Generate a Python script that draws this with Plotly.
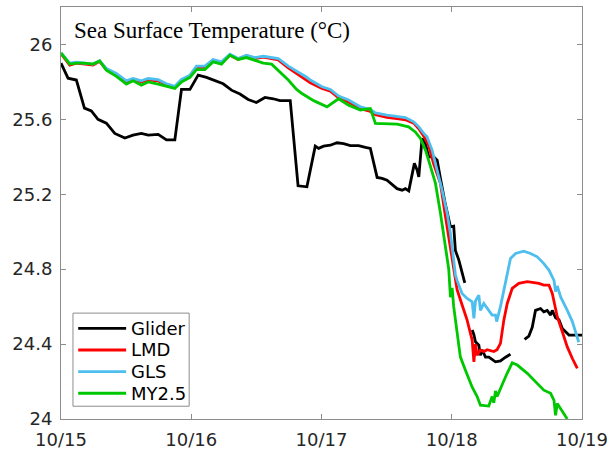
import plotly.graph_objects as go

# Time axis: days since 10/15 00:00
tick_days = [0, 1, 2, 3, 4]
tick_labels = ["10/15", "10/16", "10/17", "10/18", "10/19"]
y_ticks = [24, 24.4, 24.8, 25.2, 25.6, 26]
y_labels = ["24", "24.4", "24.8", "25.2", "25.6", "26"]

# Glider observations (None marks gaps in the record)
glider_t = [0, 0.054, 0.118, 0.18, 0.233, 0.284, 0.348, 0.413, 0.49, 0.553, 0.617, 0.669,
            0.746, 0.81, 0.874, 0.925, 0.99, 1.053, 1.117, 1.18, 1.245, 1.309, 1.374, 1.437,
            1.50, 1.566, 1.63, 1.681, 1.745, 1.76, 1.82, 1.888, 1.952, 1.978, 2.016, 2.068,
            2.119, 2.17, 2.221, 2.285, 2.337, 2.375, 2.427, 2.465, 2.503, 2.542, 2.58, 2.619,
            2.644, 2.67, 2.696, 2.713, 2.734, 2.747, 2.772, 2.798, 2.823, 2.862, 2.888, 2.90,
            2.913, 2.95, 2.99, 3.015, 3.028, 3.054, 3.079, 3.10, 3.13,
            3.157, 3.17, 3.182, 3.208, 3.22, 3.233, 3.259, 3.285, 3.336, 3.374, 3.413, 3.451, 3.50,
            3.559, 3.592, 3.618, 3.643, 3.682, 3.707, 3.733, 3.759, 3.772, 3.797, 3.823, 3.849,
            3.874, 3.90, 3.95, 4.0]
glider_v = [25.90, 25.82, 25.81, 25.66, 25.645, 25.60, 25.58, 25.525, 25.50, 25.516, 25.525, 25.516,
            25.52, 25.49, 25.49, 25.76, 25.76, 25.836, 25.824, 25.806, 25.79, 25.756, 25.735, 25.706,
            25.69, 25.717, 25.71, 25.70, 25.70, 25.70, 25.245, 25.24, 25.457, 25.445, 25.457, 25.462,
            25.475, 25.47, 25.46, 25.46, 25.45, 25.445, 25.29, 25.285, 25.275, 25.25, 25.23, 25.222,
            25.23, 25.218, 25.31, 25.365, 25.33, 25.293, 25.498, 25.47, 25.40, 25.40, 25.382, 25.33,
            25.285, 25.15, 25.026, 25.03, 24.90, 24.85, 24.786, 24.727, None,
            24.475, 24.45, 24.412, 24.394, 24.34, 24.37, 24.33, 24.33, 24.305, 24.31, 24.33, 24.346, None,
            24.425, 24.443, 24.49, 24.58, 24.59, 24.572, 24.58, 24.555, 24.58, 24.54, 24.53, 24.483,
            24.466, 24.448, 24.448, 24.448]

# LMD model
lmd_t = [0, 0.067, 0.118, 0.18, 0.246, 0.297, 0.348, 0.425, 0.502, 0.553, 0.617, 0.669, 0.746,
         0.81, 0.874, 0.925, 0.99, 1.04, 1.104, 1.168, 1.232, 1.297, 1.36, 1.424, 1.489, 1.553,
         1.617, 1.668, 1.745, 1.822, 1.886, 1.914, 2.004, 2.068, 2.131, 2.208, 2.298, 2.375,
         2.414, 2.503, 2.593, 2.644, 2.708, 2.747, 2.785, 2.823, 2.862, 2.913, 2.952, 2.99,
         3.003, 3.015, 3.041, 3.079, 3.118, 3.157, 3.17, 3.182, 3.195, 3.22, 3.246, 3.272,
         3.323, 3.348, 3.374, 3.40, 3.426, 3.464, 3.515, 3.58, 3.631, 3.669, 3.707, 3.746,
         3.772, 3.785, 3.81, 3.849, 3.887, 3.926, 3.964]
lmd_v = [25.95, 25.89, 25.90, 25.895, 25.89, 25.91, 25.865, 25.84, 25.80, 25.812, 25.80, 25.81, 25.805,
         25.785, 25.772, 25.806, 25.83, 25.878, 25.878, 25.915, 25.902, 25.942, 25.92, 25.94, 25.925, 25.932,
         25.925, 25.918, 25.875, 25.84, 25.81, 25.795, 25.765, 25.75, 25.715, 25.692, 25.657, 25.643,
         25.625, 25.61, 25.603, 25.598, 25.58, 25.55, 25.51, 25.46, 25.36, 25.258, 25.08, 24.92,
         24.87, 24.80, 24.69, 24.61, 24.528, 24.42, 24.305, 24.40, 24.34, 24.368, 24.36, 24.37,
         24.36, 24.37, 24.404, 24.528, 24.617, 24.697, 24.724, 24.733, 24.73, 24.724, 24.715, 24.715,
         24.67, 24.63, 24.546, 24.466, 24.385, 24.323, 24.27]

# GLS model
gls_t = [0, 0.067, 0.118, 0.18, 0.246, 0.297, 0.348, 0.425, 0.502, 0.553, 0.617, 0.669, 0.746,
         0.81, 0.874, 0.925, 0.99, 1.04, 1.104, 1.168, 1.232, 1.297, 1.36, 1.424, 1.489, 1.553,
         1.617, 1.668, 1.745, 1.822, 1.886, 1.914, 2.004, 2.068, 2.131, 2.208, 2.298, 2.375,
         2.414, 2.503, 2.593, 2.644, 2.708, 2.747, 2.785, 2.81, 2.849, 2.888, 2.926, 2.965,
         2.99, 3.015, 3.028, 3.041, 3.079, 3.118, 3.157, 3.17, 3.182, 3.208, 3.22, 3.246,
         3.284, 3.31, 3.336, 3.345, 3.374, 3.413, 3.426, 3.451, 3.49, 3.553, 3.605, 3.656,
         3.707, 3.746, 3.785, 3.797, 3.81, 3.836, 3.887, 3.926, 3.975]
gls_v = [25.955, 25.90, 25.905, 25.90, 25.895, 25.913, 25.872, 25.845, 25.806, 25.818, 25.806, 25.818, 25.812,
         25.79, 25.777, 25.813, 25.836, 25.884, 25.884, 25.92, 25.907, 25.948, 25.925, 25.943, 25.93, 25.937,
         25.93, 25.925, 25.884, 25.854, 25.825, 25.81, 25.774, 25.76, 25.724, 25.703, 25.667, 25.653,
         25.635, 25.622, 25.613, 25.61, 25.587, 25.56, 25.525, 25.507, 25.436, 25.33, 25.222, 25.098,
         24.99, 24.848, 24.77, 24.74, 24.67, 24.644, 24.626, 24.537, 24.63, 24.661, 24.58, 24.617,
         24.58, 24.555, 24.555, 24.52, 24.60, 24.724, 24.777, 24.857, 24.884, 24.896, 24.884, 24.866,
         24.83, 24.795, 24.74, 24.68, 24.71, 24.652, 24.58, 24.52, 24.41]

# MY2.5 model
my25_t = [0, 0.067, 0.118, 0.18, 0.246, 0.297, 0.348, 0.425, 0.502, 0.553, 0.617, 0.669, 0.746,
          0.81, 0.874, 0.925, 0.99, 1.04, 1.104, 1.168, 1.232, 1.297, 1.36, 1.424, 1.489, 1.553,
          1.617, 1.681, 1.745, 1.809, 1.85, 1.94, 2.042, 2.131, 2.208, 2.298, 2.375, 2.414,
          2.503, 2.58, 2.669, 2.72, 2.76, 2.798, 2.836, 2.875, 2.913, 2.952, 2.977, 2.99,
          3.003, 3.015, 3.041, 3.066, 3.105, 3.157, 3.195, 3.22, 3.284, 3.31, 3.323, 3.336,
          3.348, 3.40, 3.425, 3.464, 3.503, 3.58, 3.656, 3.707, 3.759, 3.785, 3.797, 3.81, 3.887]
my25_v = [25.955, 25.895, 25.90, 25.90, 25.895, 25.912, 25.863, 25.83, 25.788, 25.806, 25.783, 25.80, 25.788,
          25.777, 25.765, 25.80, 25.824, 25.866, 25.866, 25.907, 25.895, 25.943, 25.92, 25.93, 25.916, 25.90,
          25.895, 25.854, 25.81, 25.76, 25.738, 25.70, 25.667, 25.71, 25.676, 25.65, 25.658, 25.578,
          25.575, 25.575, 25.56, 25.533, 25.498, 25.436, 25.35, 25.258, 25.10, 24.92, 24.80, 24.65,
          24.70, 24.60, 24.475, 24.332, 24.26, 24.17, 24.12, 24.074, 24.069, 24.12, 24.086, 24.15,
          24.12, 24.208, 24.244, 24.30, 24.288, 24.244, 24.19, 24.154, 24.137, 24.10, 24.02, 24.083, 24.0]

series = [
    ("Glider", glider_t, glider_v, "#000000"),
    ("LMD", lmd_t, lmd_v, "#ff0000"),
    ("GLS", gls_t, gls_v, "#4dbeee"),
    ("MY2.5", my25_t, my25_v, "#00c800"),
]

LINE_W = 2.8
FRAME = "#8c8c8c"

fig = go.Figure()
for name, t, v, color in series:
    fig.add_trace(go.Scatter(
        x=t, y=v, name=name, mode="lines",
        line=dict(color=color, width=LINE_W),
        connectgaps=False, showlegend=False,
    ))

axis_style = dict(
    showline=True, linecolor=FRAME, linewidth=1, mirror="ticks",
    ticks="inside", ticklen=5, tickcolor=FRAME, tickwidth=1,
    showgrid=False, zeroline=False, automargin=False,
    tickfont=dict(family="DejaVu Sans", size=18, color="#262626"),
)

fig.update_xaxes(range=[0, 4], tickvals=tick_days, ticktext=tick_labels,
                 ticklabelstandoff=4, **axis_style)
fig.update_yaxes(range=[24, 26.2], tickvals=y_ticks, ticktext=y_labels,
                 ticklabelstandoff=4, **axis_style)

fig.add_annotation(
    text="Sea Surface Temperature (°C)", xref="paper", yref="paper",
    x=0.022, y=0.944, xanchor="left", yanchor="middle", showarrow=False,
    font=dict(family="Liberation Serif", size=23, color="#000000"),
)

# Legend box in the lower-left corner of the axes (paper coordinates)
leg_x0, leg_x1, leg_y0, leg_y1 = 0.023, 0.246, 0.031, 0.257
key_x0, key_x1, text_x = 0.033, 0.125, 0.131
row_top, row_step = 0.220, 0.0525

fig.add_shape(type="rect", xref="paper", yref="paper",
              x0=leg_x0, x1=leg_x1, y0=leg_y0, y1=leg_y1,
              line=dict(color=FRAME, width=1), fillcolor="white", layer="above")
for i, (name, _, _, color) in enumerate(series):
    yy = row_top - i * row_step
    fig.add_shape(type="line", xref="paper", yref="paper",
                  x0=key_x0, x1=key_x1, y0=yy, y1=yy,
                  line=dict(color=color, width=LINE_W), layer="above")
    fig.add_annotation(text=name, xref="paper", yref="paper",
                       x=text_x, y=yy, xanchor="left", yanchor="middle",
                       showarrow=False,
                       font=dict(family="DejaVu Sans", size=18, color="#000000"))

fig.update_layout(
    width=609, height=449,
    margin=dict(l=61, r=27, t=7, b=30),
    paper_bgcolor="white", plot_bgcolor="white",
)

fig.write_html("out.html")
